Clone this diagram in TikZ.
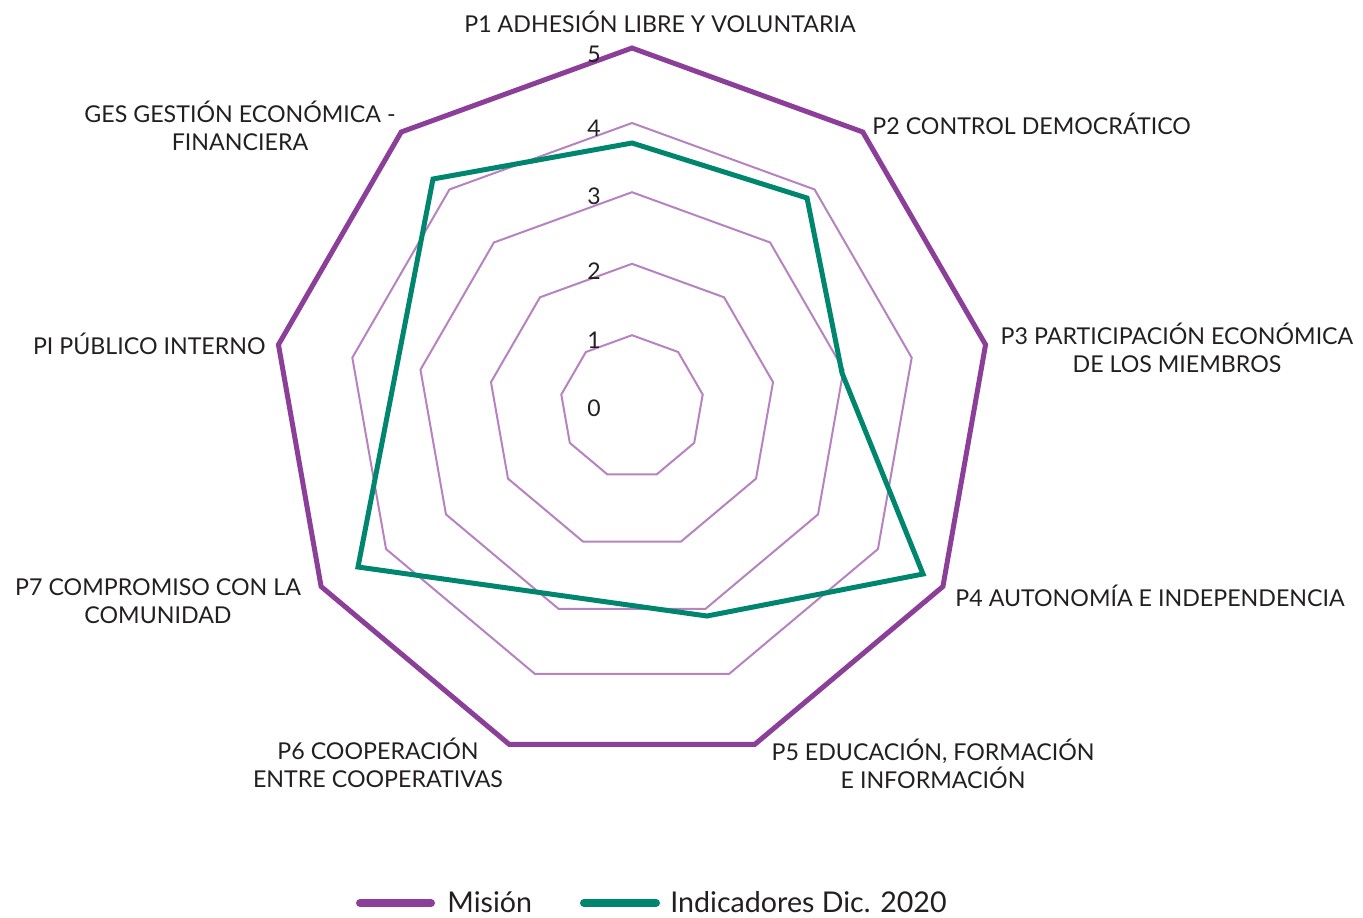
\documentclass[tikz,border=0pt]{standalone}
\usepackage{fontspec}
\setmainfont{Lato}
\definecolor{mis}{HTML}{8C3F98}
\definecolor{ringc}{HTML}{B682C0}
\definecolor{ind}{HTML}{00866F}
\definecolor{txt}{HTML}{231F20}
\begin{document}
\begin{tikzpicture}[x=0.5pt,y=-0.5pt,
  lab/.style={font=\fontsize{11.6}{14}\selectfont, text=txt, inner sep=0pt, align=center},
  num/.style={font=\fontsize{11.5}{13}\selectfont, text=txt, inner sep=0pt},
  leg/.style={font=\fontsize{14.3}{17}\selectfont, text=txt, inner sep=0pt, anchor=base west},
  thinring/.style={draw=ringc, line width=1pt},
  misline/.style={draw=mis, line width=2.5pt},
  indline/.style={draw=ind, line width=2.5pt},
  legline/.style={line width=4pt, line cap=round}]
\useasboundingbox (0,0) rectangle (1363,917);
\begin{scope}[shift={(632,407)}]
  \foreach \r in {35.9,71.6,107.4,142}{
    \draw[thinring] (90:{\r pt}) -- (50:{\r pt}) -- (10:{\r pt}) -- (-30:{\r pt}) -- (-70:{\r pt}) -- (-110:{\r pt}) -- (-150:{\r pt}) -- (170:{\r pt}) -- (130:{\r pt}) -- cycle;
  }
  \draw[misline] (90:179.5pt) -- (50:179.5pt) -- (10:179.5pt) -- (-30:179.5pt) -- (-70:179.5pt) -- (-110:179.5pt) -- (-150:179.5pt) -- (170:179.5pt) -- (130:179.5pt) -- cycle;
\end{scope}
% Indicadores series
\coordinate (g1) at (632,143);
\coordinate (g2) at (807,198);
\coordinate (g3) at (842,373);
\coordinate (g4) at (923,574);
\coordinate (g5) at (707,616);
\coordinate (g7) at (358,567);
\coordinate (gg) at (433,179);
\draw[indline] (g1) -- (g2) -- (g3) -- (g4) -- (g5) -- (g7) -- (gg) -- cycle;
% axis numbers
\node[num] (n5) at (594,54) {5};
\node[num] (n4) at (594,128) {4};
\node[num] (n3) at (594,196) {3};
\node[num] (n2) at (594,271) {2};
\node[num] (n1) at (594,340) {1};
\node[num] (n0) at (594,408) {0};
% category labels
\node[lab] (l1) at (660,22) {P1 ADHESIÓN LIBRE Y VOLUNTARIA};
\node[lab, anchor=west] (l2) at (872,124) {P2 CONTROL DEMOCRÁTICO};
\node[lab] (l3) at (1177,348) {P3 PARTICIPACIÓN ECONÓMICA\\DE LOS MIEMBROS};
\node[lab, anchor=west] (l4) at (955,596) {P4 AUTONOMÍA E INDEPENDENCIA};
\node[lab] (l5) at (933,764) {P5 EDUCACIÓN, FORMACIÓN\\E INFORMACIÓN};
\node[lab] (l6) at (378,763) {P6 COOPERACIÓN\\ENTRE COOPERATIVAS};
\node[lab] (l7) at (158,601) {P7 COMPROMISO CON LA\\COMUNIDAD};
\node[lab, anchor=east] (lpi) at (266,344) {PI PÚBLICO INTERNO};
\node[lab] (lg) at (240,126) {GES GESTIÓN ECONÓMICA -\\FINANCIERA};
% legend
\coordinate (m1) at (360,903);
\coordinate (m2) at (431,903);
\draw[legline, mis] (m1) -- (m2);
\node[leg] (lm) at (447,912) {Misión};
\coordinate (i1) at (584,903);
\coordinate (i2) at (656,903);
\draw[legline, ind] (i1) -- (i2);
\node[leg] (li) at (670,912) {Indicadores Dic. 2020};
\end{tikzpicture}
\end{document}
